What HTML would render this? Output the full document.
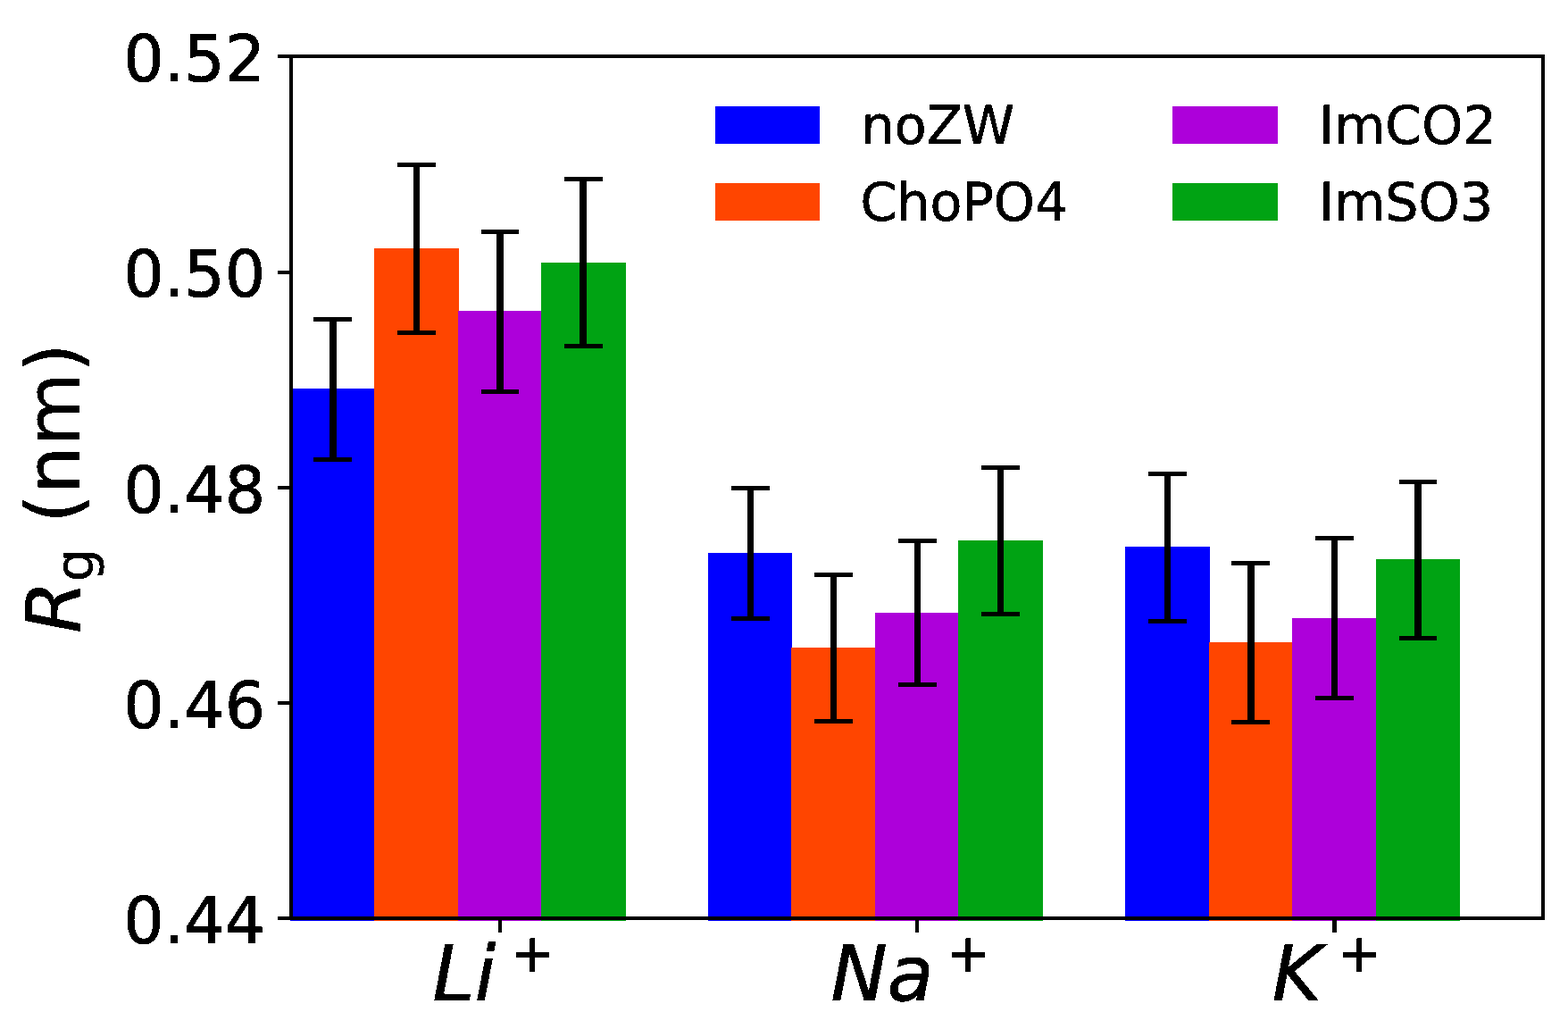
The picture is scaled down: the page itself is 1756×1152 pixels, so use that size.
<!DOCTYPE html>
<html><head><meta charset="utf-8"><title>Rg bar chart</title>
<style>
html,body{margin:0;padding:0;background:#fff;}
svg{display:block;}
text{font-family:"DejaVu Sans","Liberation Sans",sans-serif;fill:#000;text-rendering:geometricPrecision;}
.it{font-style:italic;}
</style></head><body>
<svg width="1756" height="1152" viewBox="0 0 1756 1152">
<rect x="0" y="0" width="1756" height="1152" fill="#fff"/>
<g shape-rendering="crispEdges">
<rect x="325" y="435" width="95" height="596" fill="#0000ff"/>
<rect x="419" y="278" width="95" height="753" fill="#ff4500"/>
<rect x="513" y="348" width="94" height="683" fill="#ad00da"/>
<rect x="606" y="294" width="95" height="737" fill="#00a313"/>
<rect x="793" y="619" width="94" height="412" fill="#0000ff"/>
<rect x="886" y="725" width="95" height="306" fill="#ff4500"/>
<rect x="980" y="686" width="94" height="345" fill="#ad00da"/>
<rect x="1073" y="605" width="95" height="426" fill="#00a313"/>
<rect x="1260" y="612" width="95" height="419" fill="#0000ff"/>
<rect x="1354" y="719" width="94" height="312" fill="#ff4500"/>
<rect x="1447" y="692" width="95" height="339" fill="#ad00da"/>
<rect x="1541" y="626" width="94" height="405" fill="#00a313"/>
</g>
<g fill="#000" shape-rendering="crispEdges">
<rect x="369" y="357" width="8" height="157"/>
<rect x="351" y="355" width="43" height="5"/>
<rect x="351" y="512" width="43" height="5"/>
<rect x="463" y="184" width="7" height="188"/>
<rect x="445" y="182" width="43" height="5"/>
<rect x="445" y="370" width="43" height="5"/>
<rect x="556" y="259" width="8" height="179"/>
<rect x="539" y="257" width="42" height="5"/>
<rect x="539" y="436" width="42" height="5"/>
<rect x="649" y="200" width="8" height="187"/>
<rect x="632" y="198" width="43" height="5"/>
<rect x="632" y="385" width="43" height="5"/>
<rect x="837" y="546" width="7" height="146"/>
<rect x="819" y="544" width="43" height="5"/>
<rect x="819" y="690" width="43" height="5"/>
<rect x="930" y="643" width="7" height="164"/>
<rect x="912" y="641" width="43" height="5"/>
<rect x="912" y="805" width="43" height="5"/>
<rect x="1024" y="605" width="7" height="161"/>
<rect x="1006" y="603" width="43" height="5"/>
<rect x="1006" y="764" width="43" height="5"/>
<rect x="1117" y="523" width="7" height="164"/>
<rect x="1099" y="521" width="43" height="5"/>
<rect x="1099" y="685" width="43" height="5"/>
<rect x="1304" y="530" width="7" height="165"/>
<rect x="1286" y="528" width="43" height="5"/>
<rect x="1286" y="693" width="43" height="5"/>
<rect x="1397" y="630" width="8" height="178"/>
<rect x="1379" y="628" width="43" height="5"/>
<rect x="1379" y="806" width="43" height="5"/>
<rect x="1491" y="602" width="7" height="179"/>
<rect x="1473" y="600" width="43" height="5"/>
<rect x="1473" y="779" width="43" height="5"/>
<rect x="1584" y="539" width="8" height="175"/>
<rect x="1567" y="537" width="42" height="5"/>
<rect x="1567" y="712" width="42" height="5"/>
</g>
<g fill="#000" shape-rendering="crispEdges">
<rect x="324" y="61" width="1406" height="4"/>
<rect x="324" y="1026" width="1406" height="4"/>
<rect x="324" y="61" width="4" height="969"/>
<rect x="1726" y="61" width="4" height="969"/>
<rect x="311" y="61" width="14" height="4"/>
<rect x="311" y="303" width="14" height="4"/>
<rect x="311" y="544" width="14" height="4"/>
<rect x="311" y="785" width="14" height="4"/>
<rect x="311" y="1026" width="14" height="4"/>
<rect x="558" y="1028" width="4" height="16"/>
<rect x="1025" y="1028" width="4" height="16"/>
<rect x="1492" y="1028" width="5" height="16"/>
</g>
<defs><filter id="th" filterUnits="userSpaceOnUse" x="0" y="0" width="1756" height="1152" color-interpolation-filters="sRGB"><feComponentTransfer><feFuncA type="discrete" tableValues="0 1"/></feComponentTransfer></filter></defs>
<g filter="url(#th)">
<text transform="translate(0,91.2) scale(1,1.015) translate(0,-91.2)" x="297.1" y="91.2" font-size="71.4" text-anchor="end" stroke="#000" stroke-width="0.9">0.52</text>
<text transform="translate(0,332.45) scale(1,1.015) translate(0,-332.45)" x="297.1" y="332.45" font-size="71.4" text-anchor="end" stroke="#000" stroke-width="0.9">0.50</text>
<text transform="translate(0,573.7) scale(1,1.015) translate(0,-573.7)" x="297.1" y="573.7" font-size="71.4" text-anchor="end" stroke="#000" stroke-width="0.9">0.48</text>
<text transform="translate(0,814.95) scale(1,1.015) translate(0,-814.95)" x="297.1" y="814.95" font-size="71.4" text-anchor="end" stroke="#000" stroke-width="0.9">0.46</text>
<text transform="translate(0,1056.2) scale(1,1.015) translate(0,-1056.2)" x="297.1" y="1056.2" font-size="71.4" text-anchor="end" stroke="#000" stroke-width="0.9">0.44</text>
<text transform="translate(0,1119.9) scale(1,1.016) translate(0,-1119.9)" x="484.6" y="1119.9" font-size="84.5" stroke="#000" stroke-width="1.0" class="it">Li</text>
<text transform="translate(0,1087.7) scale(1,1.027) translate(0,-1087.7)" x="571.9" y="1087.7" font-size="58.00" stroke="#000" stroke-width="1.0">+</text>
<text transform="translate(0,1119.9) scale(1,1.016) translate(0,-1119.9)" x="930.6" y="1119.9" font-size="84.5" stroke="#000" stroke-width="1.0" class="it">Na</text>
<text transform="translate(0,1087.7) scale(1,1.027) translate(0,-1087.7)" x="1060.0" y="1087.7" font-size="58.00" stroke="#000" stroke-width="1.0">+</text>
<text transform="translate(0,1119.9) scale(1,1.016) translate(0,-1119.9)" x="1424.7" y="1119.9" font-size="84.5" stroke="#000" stroke-width="1.0" class="it">K</text>
<text transform="translate(0,1087.7) scale(1,1.027) translate(0,-1087.7)" x="1497.8999999999999" y="1087.7" font-size="58.00" stroke="#000" stroke-width="1.0">+</text>
<text transform="translate(90,709.1) rotate(-90)" font-size="84.5" stroke="#000" stroke-width="0.45"><tspan class="it" x="0" y="0">R</tspan><tspan x="57.7" y="13.7" font-size="59.15">g</tspan><tspan x="123.1" y="-0.8">(nm)</tspan></text>
<text transform="translate(0,160.9) scale(1,1.012) translate(0,-160.9)" x="964.6" y="160.9" font-size="58.7" stroke="#000" stroke-width="0.6">noZW</text>
<text transform="translate(0,246.6) scale(1,1.012) translate(0,-246.6)" x="963.4" y="246.6" font-size="58.7" stroke="#000" stroke-width="0.6">ChoPO4</text>
<text transform="translate(0,161) scale(1,1.012) translate(0,-161)" x="1476.9" y="161" font-size="58.7" stroke="#000" stroke-width="0.6">ImCO2</text>
<text transform="translate(0,246.6) scale(1,1.012) translate(0,-246.6)" x="1476.9" y="246.6" font-size="58.7" stroke="#000" stroke-width="0.6">ImSO3</text>
</g>
<rect x="801" y="119" width="117" height="42" fill="#0000ff" shape-rendering="crispEdges"/>
<rect x="801" y="205" width="117" height="42" fill="#ff4500" shape-rendering="crispEdges"/>
<rect x="1313" y="119" width="118" height="42" fill="#ad00da" shape-rendering="crispEdges"/>
<rect x="1313" y="205" width="118" height="42" fill="#00a313" shape-rendering="crispEdges"/>
</svg>
</body></html>
